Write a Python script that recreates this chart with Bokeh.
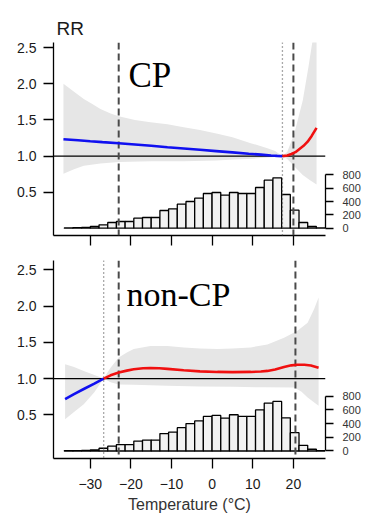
from bokeh.plotting import figure
from bokeh.models import Range1d, LinearAxis, FixedTicker, Span
from bokeh.layouts import column
from bokeh.embed import file_html
from bokeh.resources import INLINE
from bokeh.core.properties import value

# ---------------- data ----------------
x_ticks = [-30, -20, -10, 0, 10, 20]
x_tick_labels = ["\u221230", "\u221220", "\u221210", "0", "10", "20"]
y_ticks = [0.5, 1.0, 1.5, 2.0, 2.5]
y_tick_labels = ["0.5", "1.0", "1.5", "2.0", "2.5"]
hist_ticks = [0, 200, 400, 600, 800]

bin_edges = [-36.4, -34.26, -32.12, -29.98, -27.84, -25.7, -23.56, -21.42, -19.28, -17.14,
             -15.0, -12.86, -10.72, -8.58, -6.44, -4.3, -2.16, -0.02, 2.12, 4.26,
             6.4, 8.54, 10.68, 12.82, 14.96, 17.1, 19.24, 21.38, 23.52, 25.66, 27.8]

cp_counts = [3, 8, 12, 25, 50, 85, 100, 100, 150, 160, 160, 265, 290, 360, 400,
             450, 520, 535, 495, 535, 520, 520, 610, 720, 755, 505, 270, 85, 25, 5]
ncp_counts = [3, 5, 10, 15, 40, 70, 93, 93, 145, 160, 160, 255, 275, 340, 400,
              440, 505, 520, 480, 530, 505, 505, 600, 700, 725, 485, 267, 83, 25, 5]

# CP panel
cp_blue_T = [-36.6, -33, -30, -27, -23, -19, -15, -11, -7, -3, 1, 5, 9, 12, 14.5, 16, 17.3]
cp_blue = [1.234, 1.219, 1.206, 1.194, 1.179, 1.161, 1.143, 1.124, 1.106, 1.088, 1.070,
           1.052, 1.034, 1.021, 1.010, 1.004, 1.0]
cp_red_T = [17.3, 18.5, 19.5, 20.5, 21.5, 22.5, 23.5, 24.5, 25.7]
cp_red = [1.0, 1.01, 1.03, 1.055, 1.10, 1.143, 1.20, 1.28, 1.39]
cp_up_T = [-36.6, -34, -31.6, -29.5, -27.5, -25, -23, -19, -15.2, -11, -7, -3, 1.3, 5,
           9.5, 13.6, 15.5, 17.3, 18.5, 20.2, 22.3, 23.7, 24.7, 25.7]
cp_up = [2.0, 1.89, 1.79, 1.72, 1.65, 1.59, 1.55, 1.50, 1.47, 1.44, 1.40, 1.36, 1.31, 1.26,
         1.18, 1.11, 1.07, 1.0, 1.06, 1.31, 1.77, 2.23, 2.59, 3.0]
cp_lo_T = [-36.6, -34, -31.6, -27.5, -23, -15, -7, 1, 5.4, 10, 13.6, 15.5, 17.3, 18.5,
           20.2, 22.3, 24, 25.7]
cp_lo = [0.757, 0.82, 0.866, 0.90, 0.92, 0.93, 0.93, 0.94, 0.955, 0.965, 0.98, 0.99, 1.0,
         0.96, 0.86, 0.74, 0.67, 0.61]
cp_dashed = [-23.0, 20.0]
cp_dotted = [17.3]

# non-CP panel
ncp_blue_T = [-36.2, -34, -31.6, -29, -26.7]
ncp_blue = [0.716, 0.785, 0.856, 0.93, 1.0]
ncp_red_T = [-26.7, -25, -23, -21, -19.3, -17, -15.2, -13, -11, -7, -3, 1.3, 5, 9.5, 12,
             13.6, 15.5, 17.7, 19.5, 21, 22.7, 24.3, 26.2]
ncp_red = [1.0, 1.045, 1.083, 1.11, 1.129, 1.142, 1.147, 1.143, 1.134, 1.115, 1.100, 1.092,
           1.089, 1.092, 1.098, 1.106, 1.125, 1.161, 1.183, 1.19, 1.19, 1.18, 1.15]
ncp_up_T = [-36.2, -34, -31.6, -29, -26.7, -25, -23, -21, -19.3, -15.2, -11, -7, -3, 1.3,
            5, 9.5, 13.6, 17.7, 21, 23.5, 25.1, 26.2]
ncp_up = [1.198, 1.16, 1.106, 1.05, 1.0, 1.15, 1.29, 1.36, 1.41, 1.45, 1.45, 1.43, 1.415,
          1.41, 1.415, 1.43, 1.47, 1.565, 1.66, 1.77, 1.96, 2.12]
ncp_lo_T = [-36.2, -34, -31.6, -29, -26.7, -25, -23, -19.3, -11, -3, 5.3, 13, 20.2, 22,
            23.5, 26.2]
ncp_lo = [0.44, 0.54, 0.647, 0.81, 1.0, 0.95, 0.92, 0.915, 0.90, 0.89, 0.886, 0.88, 0.876,
          0.82, 0.74, 0.624]
ncp_dashed = [-23.0, 20.5]
ncp_dotted = [-26.7]

# ---------------- styling ----------------
SANS = "Liberation Sans"
SERIF = "Liberation Serif"
BAND = "#e6e6e6"
BAR_FILL = "#f2f2f2"
LABEL_COLOR = "#1a1a1a"


def panel(height, y_lo, y_hi, top_border, bottom_border, title,
          up_T, up, lo_T, lo, blue_T, blue, red_T, red, counts,
          dashed, dotted, label, label_xy, label_size, show_xlabels):
    p = figure(width=366, height=height,
               x_range=Range1d(-39.05, 27.9), y_range=Range1d(y_lo, y_hi),
               output_backend="svg", toolbar_location=None,
               min_border_left=53, min_border_right=41,
               min_border_top=top_border, min_border_bottom=bottom_border,
               x_axis_type=None, y_axis_type=None)
    p.extra_y_ranges = {"hist": Range1d(-110, 2785)}
    p.outline_line_color = None
    p.background_fill_color = "white"
    p.border_fill_color = "white"
    if title:
        p.title.text = title
        p.title.align = "left"
        p.title.text_font = SANS
        p.title.text_font_size = "19px"
        p.title.text_font_style = "normal"
        p.title.text_color = LABEL_COLOR
        p.title.offset = 3
        p.title.standoff = 8

    # band
    p.patch(up_T + lo_T[::-1], up + lo[::-1], fill_color=BAND, line_color=None)
    # histogram
    p.quad(left=bin_edges[:-1], right=bin_edges[1:], bottom=0, top=counts,
           y_range_name="hist", fill_color=BAR_FILL, line_color="black", line_width=1.3)
    # reference lines
    p.add_layout(Span(location=1.0, dimension="width", line_color="black", line_width=1.3))
    for d in dashed:
        p.add_layout(Span(location=d, dimension="height", line_color="#4a4a4a",
                          line_width=2, line_dash="7 4"))
    for d in dotted:
        p.add_layout(Span(location=d, dimension="height", line_color="#555555",
                          line_width=1.3, line_dash="1 3"))
    # curves
    rb = p.line(blue_T, blue, line_color="#1010f0", line_width=2.6)
    rr = p.line(red_T, red, line_color="#f01010", line_width=2.6)
    rb.level = "overlay"
    rr.level = "overlay"
    # panel label
    p.text(x=[label_xy[0]], y=[label_xy[1]], text=[label], text_font=value(SERIF),
           text_font_size=label_size, text_color="black", text_baseline="alphabetic",
           text_align="left")

    # axes
    xa = LinearAxis(ticker=FixedTicker(ticks=x_ticks))
    ya = LinearAxis(ticker=FixedTicker(ticks=y_ticks))
    ha = LinearAxis(y_range_name="hist", ticker=FixedTicker(ticks=hist_ticks), bounds=(0, 800))
    for ax in (xa, ya, ha):
        ax.axis_line_color = "black"
        ax.axis_line_width = 1.3
        ax.major_tick_line_color = "black"
        ax.major_tick_line_width = 1.3
        ax.major_tick_in = 0
        ax.minor_tick_line_color = None
        ax.major_label_text_font = SANS
        ax.major_label_text_color = LABEL_COLOR
    ya.major_tick_out = 10
    ya.major_label_standoff = 7
    ya.major_label_text_font_size = "14px"
    ya.major_label_overrides = {t: s for t, s in zip(y_ticks, y_tick_labels)}
    ha.major_tick_out = 8
    ha.major_label_standoff = 9
    ha.major_label_text_font_size = "11px"
    ha.major_label_text_color = "#333333"
    xa.major_tick_out = 10
    if show_xlabels:
        xa.major_label_text_font_size = "14px"
        xa.major_label_standoff = 10
        xa.major_label_overrides = {t: s for t, s in zip(x_ticks, x_tick_labels)}
        xa.axis_label = "Temperature (\u00b0C)"
        xa.axis_label_text_font = SANS
        xa.axis_label_text_font_size = "16px"
        xa.axis_label_text_font_style = "normal"
        xa.axis_label_text_color = "#333333"
        xa.axis_label_standoff = 4
    else:
        xa.major_label_text_font_size = "0px"
        xa.major_label_standoff = 0
        xa.major_label_overrides = {t: "" for t in x_ticks}
    p.add_layout(xa, "below")
    p.add_layout(ya, "left")
    p.add_layout(ha, "right")
    return p


p1 = panel(250, -0.096, 2.57, 42, 15, "RR",
           cp_up_T, cp_up, cp_lo_T, cp_lo, cp_blue_T, cp_blue, cp_red_T, cp_red,
           cp_counts, cp_dashed, cp_dotted, "CP", (-20.6, 2.12), "35px", False)
p2 = panel(266, -0.103, 2.63, 10, 58, None,
           ncp_up_T, ncp_up, ncp_lo_T, ncp_lo, ncp_blue_T, ncp_blue, ncp_red_T, ncp_red,
           ncp_counts, ncp_dashed, ncp_dotted, "non-CP", (-21.1, 2.16), "34px", True)

layout = column(p1, p2)
open("out.html", "w").write(file_html(layout, INLINE))
